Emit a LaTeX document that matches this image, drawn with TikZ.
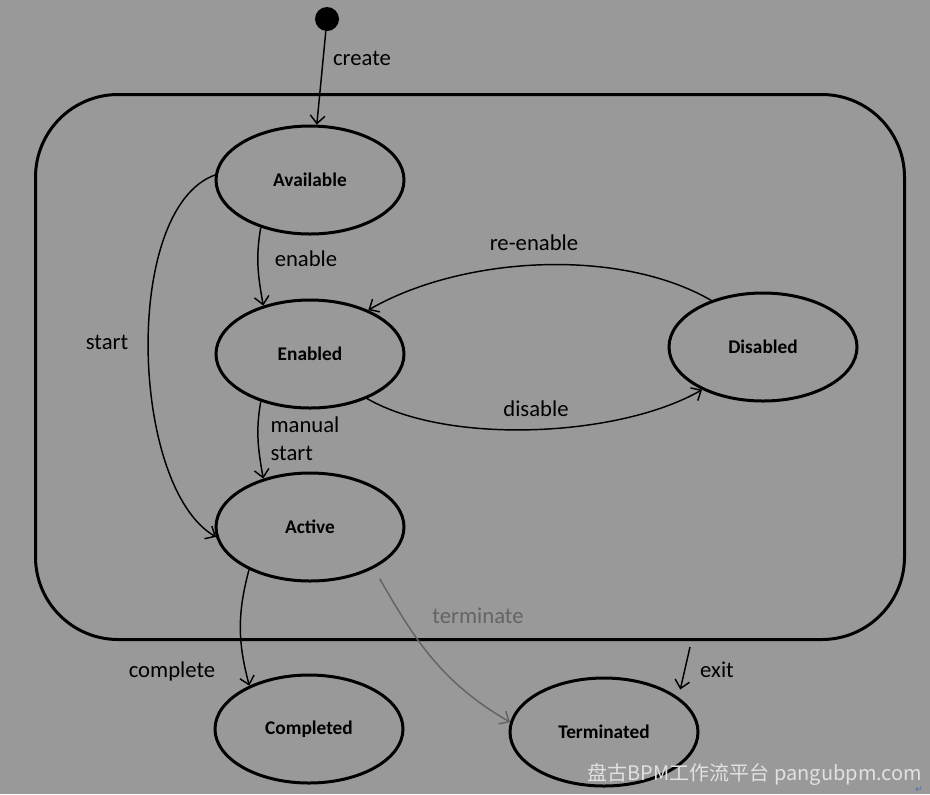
\documentclass[tikz,border=0pt]{standalone}
\usepackage{fontspec}
\setmainfont{Carlito}
\newfontfamily\cjkfont{Noto Sans CJK SC}
\newfontfamily\symfont{DejaVu Sans}
\usepackage{xcolor}
\usepackage{tikz}
\usetikzlibrary{arrows.meta,shapes.geometric}
\definecolor{bggray}{RGB}{153,153,153}
\definecolor{termgray}{RGB}{100,100,100}
\definecolor{markgray}{RGB}{225,225,225}
\definecolor{markblue}{RGB}{70,110,190}
\tikzset{
  state/.style = {ellipse, draw=black, line width=2.25pt, inner sep=0pt,
    minimum width=141pt, minimum height=81pt, font=\fontsize{14.5}{17}\selectfont\bfseries},% etat
  initdot/.style = {circle, fill=black, inner sep=0pt, minimum size=18pt},% etat initial
  container/.style = {rectangle, draw=black, line width=2.25pt, rounded corners=62pt,
    minimum width=651.75pt, minimum height=408.75pt},% etat compose
  trans/.style = {->, line width=1.1pt},% transition
  lbl/.style = {font=\fontsize{17}{21}\selectfont, inner sep=0pt}% etiquette
}

\begin{document}
\begin{tikzpicture}[x=0.75pt,y=0.75pt,>={Straight Barb[length=6pt,width=11pt]}]
\fill[bggray] (0,0) rectangle (930,-794);
\node [container] (proc) at (470,-367) {};
\node [initdot] (init) at (327,-19) {};
\node [state] (avail) at (310,-180) {Available};
\node [state] (enab) at (310,-354) {Enabled};
\node [state] (act) at (310,-527) {Active};
\node [state] (dis) at (763,-347) {Disabled};
\node [state] (comp) at (309,-729) {Completed};
\node [state] (term) at (604,-732) {Terminated};
\coordinate (exitpt) at (690,-647);

\draw [trans] (init) -- (avail.83);
\draw [trans] (avail.224) to[out=-100,in=100] (enab.134);
\draw [trans] (enab.224) to[out=-100,in=100] (act.134);
\draw [trans] (avail.177) to[out=200,in=150,looseness=0.7] (act.186);
\draw [trans] (dis.138) to[out=150,in=30,looseness=0.8] (enab.37);
\draw [trans] (enab.-38) to[out=-30,in=210,looseness=0.72] (dis.215);
\draw [trans] (act.215) to[out=255,in=105] (comp.144);
\draw [trans,termgray,shorten <=9pt] (act.-33) to[out=-60,in=150] (term.174);
\draw [trans,shorten >=6pt] (exitpt) -- (term.25);

\node [lbl] at (362,-58) {create};
\node [lbl] at (306,-259) {enable};
\node [lbl] at (107,-342) {start};
\node [lbl] at (534,-243) {re-enable};
\node [lbl] at (536,-409) {disable};
\node [lbl, align=left] at (305,-439) {manual\\start};
\node [lbl] at (172,-671) {complete};
\node [lbl, termgray] at (478,-616) {terminate};
\node [lbl] at (717,-670) {exit};

\node [markgray, font=\cjkfont\fontsize{15}{17}\selectfont, inner sep=0pt] (mark) at (755,-774) {盘古BPM工作流平台 pangubpm.com};
\node [markblue, font=\symfont\fontsize{7}{8}\selectfont, inner sep=0pt] (pmark) at (919,-790) {↵};
\end{tikzpicture}
\end{document}
